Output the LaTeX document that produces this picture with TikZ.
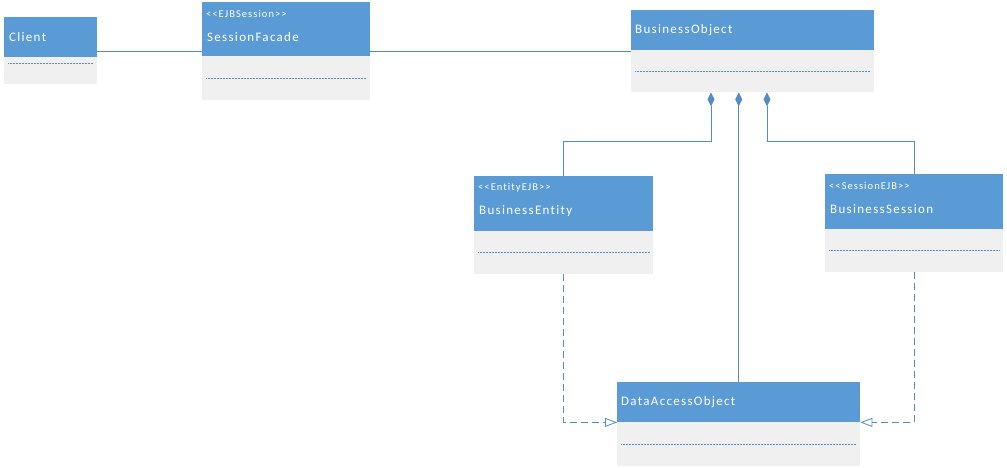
\documentclass[tikz,border=0pt]{standalone}
\usepackage{fontspec}
\usetikzlibrary{arrows.meta,calc}
\newfontfamily\umlfont[LetterSpace=10,Ligatures=NoCommon]{Carlito}

\definecolor{umlblue}{RGB}{91,155,213}
\definecolor{umlgray}{RGB}{240,240,240}
\definecolor{umlline}{RGB}{84,141,196}

\tikzset{
  head/.style={fill=umlblue,anchor=north west,inner sep=0pt},
  body/.style={fill=umlgray,anchor=north west,inner sep=0pt},
  cname/.style={anchor=west,inner sep=0pt,text=white,font=\umlfont\fontsize{13}{15}\selectfont},
  stereo/.style={anchor=west,inner sep=0pt,text=white,font=\umlfont\fontsize{10.5}{12}\selectfont},
  sep/.style={draw=umlline,densely dotted,line width=0.5pt},
  assoc/.style={draw=umlline,line width=0.8pt},
  agg/.style={draw=umlline,line width=0.8pt,-{Diamond[length=14pt,width=7pt,fill=umlline]}},
  dep/.style={draw=umlline,line width=0.8pt,dash pattern=on 7pt off 4pt,-{Triangle[open,length=12pt,width=9pt]}}
}

\begin{document}
\begin{tikzpicture}[x=1pt,y=-1pt]
  \useasboundingbox (0,0) rectangle (1007,467);

  % class boxes
  \node[head,minimum width=93pt,minimum height=40pt] (cl) at (4,17) {};
  \node[body,minimum width=93pt,minimum height=27pt] (clb) at (4,57) {};
  \node[head,minimum width=168pt,minimum height=54pt] (sf) at (202,2) {};
  \node[body,minimum width=168pt,minimum height=44pt] (sfb) at (202,56) {};
  \node[head,minimum width=243pt,minimum height=40pt] (bo) at (631,10) {};
  \node[body,minimum width=243pt,minimum height=42pt] (bob) at (631,50) {};
  \node[head,minimum width=179pt,minimum height=55pt] (ent) at (474,176) {};
  \node[body,minimum width=179pt,minimum height=43pt] (entb) at (474,231) {};
  \node[head,minimum width=178pt,minimum height=55pt] (ses) at (825,174) {};
  \node[body,minimum width=178pt,minimum height=43pt] (sesb) at (825,229) {};
  \node[head,minimum width=243pt,minimum height=40pt] (dao) at (617,382) {};
  \node[body,minimum width=243pt,minimum height=44pt] (daob) at (617,422) {};

  % texts
  \node[cname] (cl-name) at ([xshift=5pt]cl.west) {Client};
  \node[stereo] (sf-st) at ($(sf.north west)+(4,12)$) {<<EJBSession>>};
  \node[cname] (sf-name) at ($(sf.north west)+(5,35)$) {SessionFacade};
  \node[cname] (bo-name) at ([xshift=4pt]bo.west) {BusinessObject};
  \node[stereo] (ent-st) at ($(ent.north west)+(4,12)$) {<<EntityEJB>>};
  \node[cname] (ent-name) at ($(ent.north west)+(5,35)$) {BusinessEntity};
  \node[stereo] (ses-st) at ($(ses.north west)+(4,12)$) {<<SessionEJB>>};
  \node[cname] (ses-name) at ($(ses.north west)+(5,35)$) {BusinessSession};
  \node[cname] (dao-name) at ([xshift=4pt]dao.west) {DataAccessObject};

  % compartment separators
  \draw[sep] ([xshift=4pt,yshift=7pt]clb.west) -- ([xshift=-4pt,yshift=7pt]clb.east);
  \draw[sep] ([xshift=4pt]sfb.west) -- ([xshift=-4pt]sfb.east);
  \draw[sep] ([xshift=4pt]bob.west) -- ([xshift=-4pt]bob.east);
  \draw[sep] ([xshift=4pt]entb.west) -- ([xshift=-4pt]entb.east);
  \draw[sep] ([xshift=4pt]sesb.west) -- ([xshift=-4pt]sesb.east);
  \draw[sep] ([xshift=4pt]daob.west) -- ([xshift=-4pt]daob.east);

  % connectors
  \draw[assoc] ([yshift=6pt]cl.south east) -- ([yshift=5pt]sf.south west);
  \draw[assoc] ([yshift=5pt]sf.south east) -- ([yshift=-1pt]bo.south west);

  \coordinate (k1) at (711,141);
  \coordinate (k2) at (767,141);
  \draw[agg] (ent.north) |- (k1) -- (k1 |- bob.south);
  \draw[agg] (ses.north) |- (k2) -- (k2 |- bob.south);
  \draw[agg] (dao.north) -- (dao.north |- bob.south);

  \draw[dep] (entb.south) |- (dao.south west);
  \draw[dep] (sesb.south) |- (dao.south east);
\end{tikzpicture}
\end{document}
